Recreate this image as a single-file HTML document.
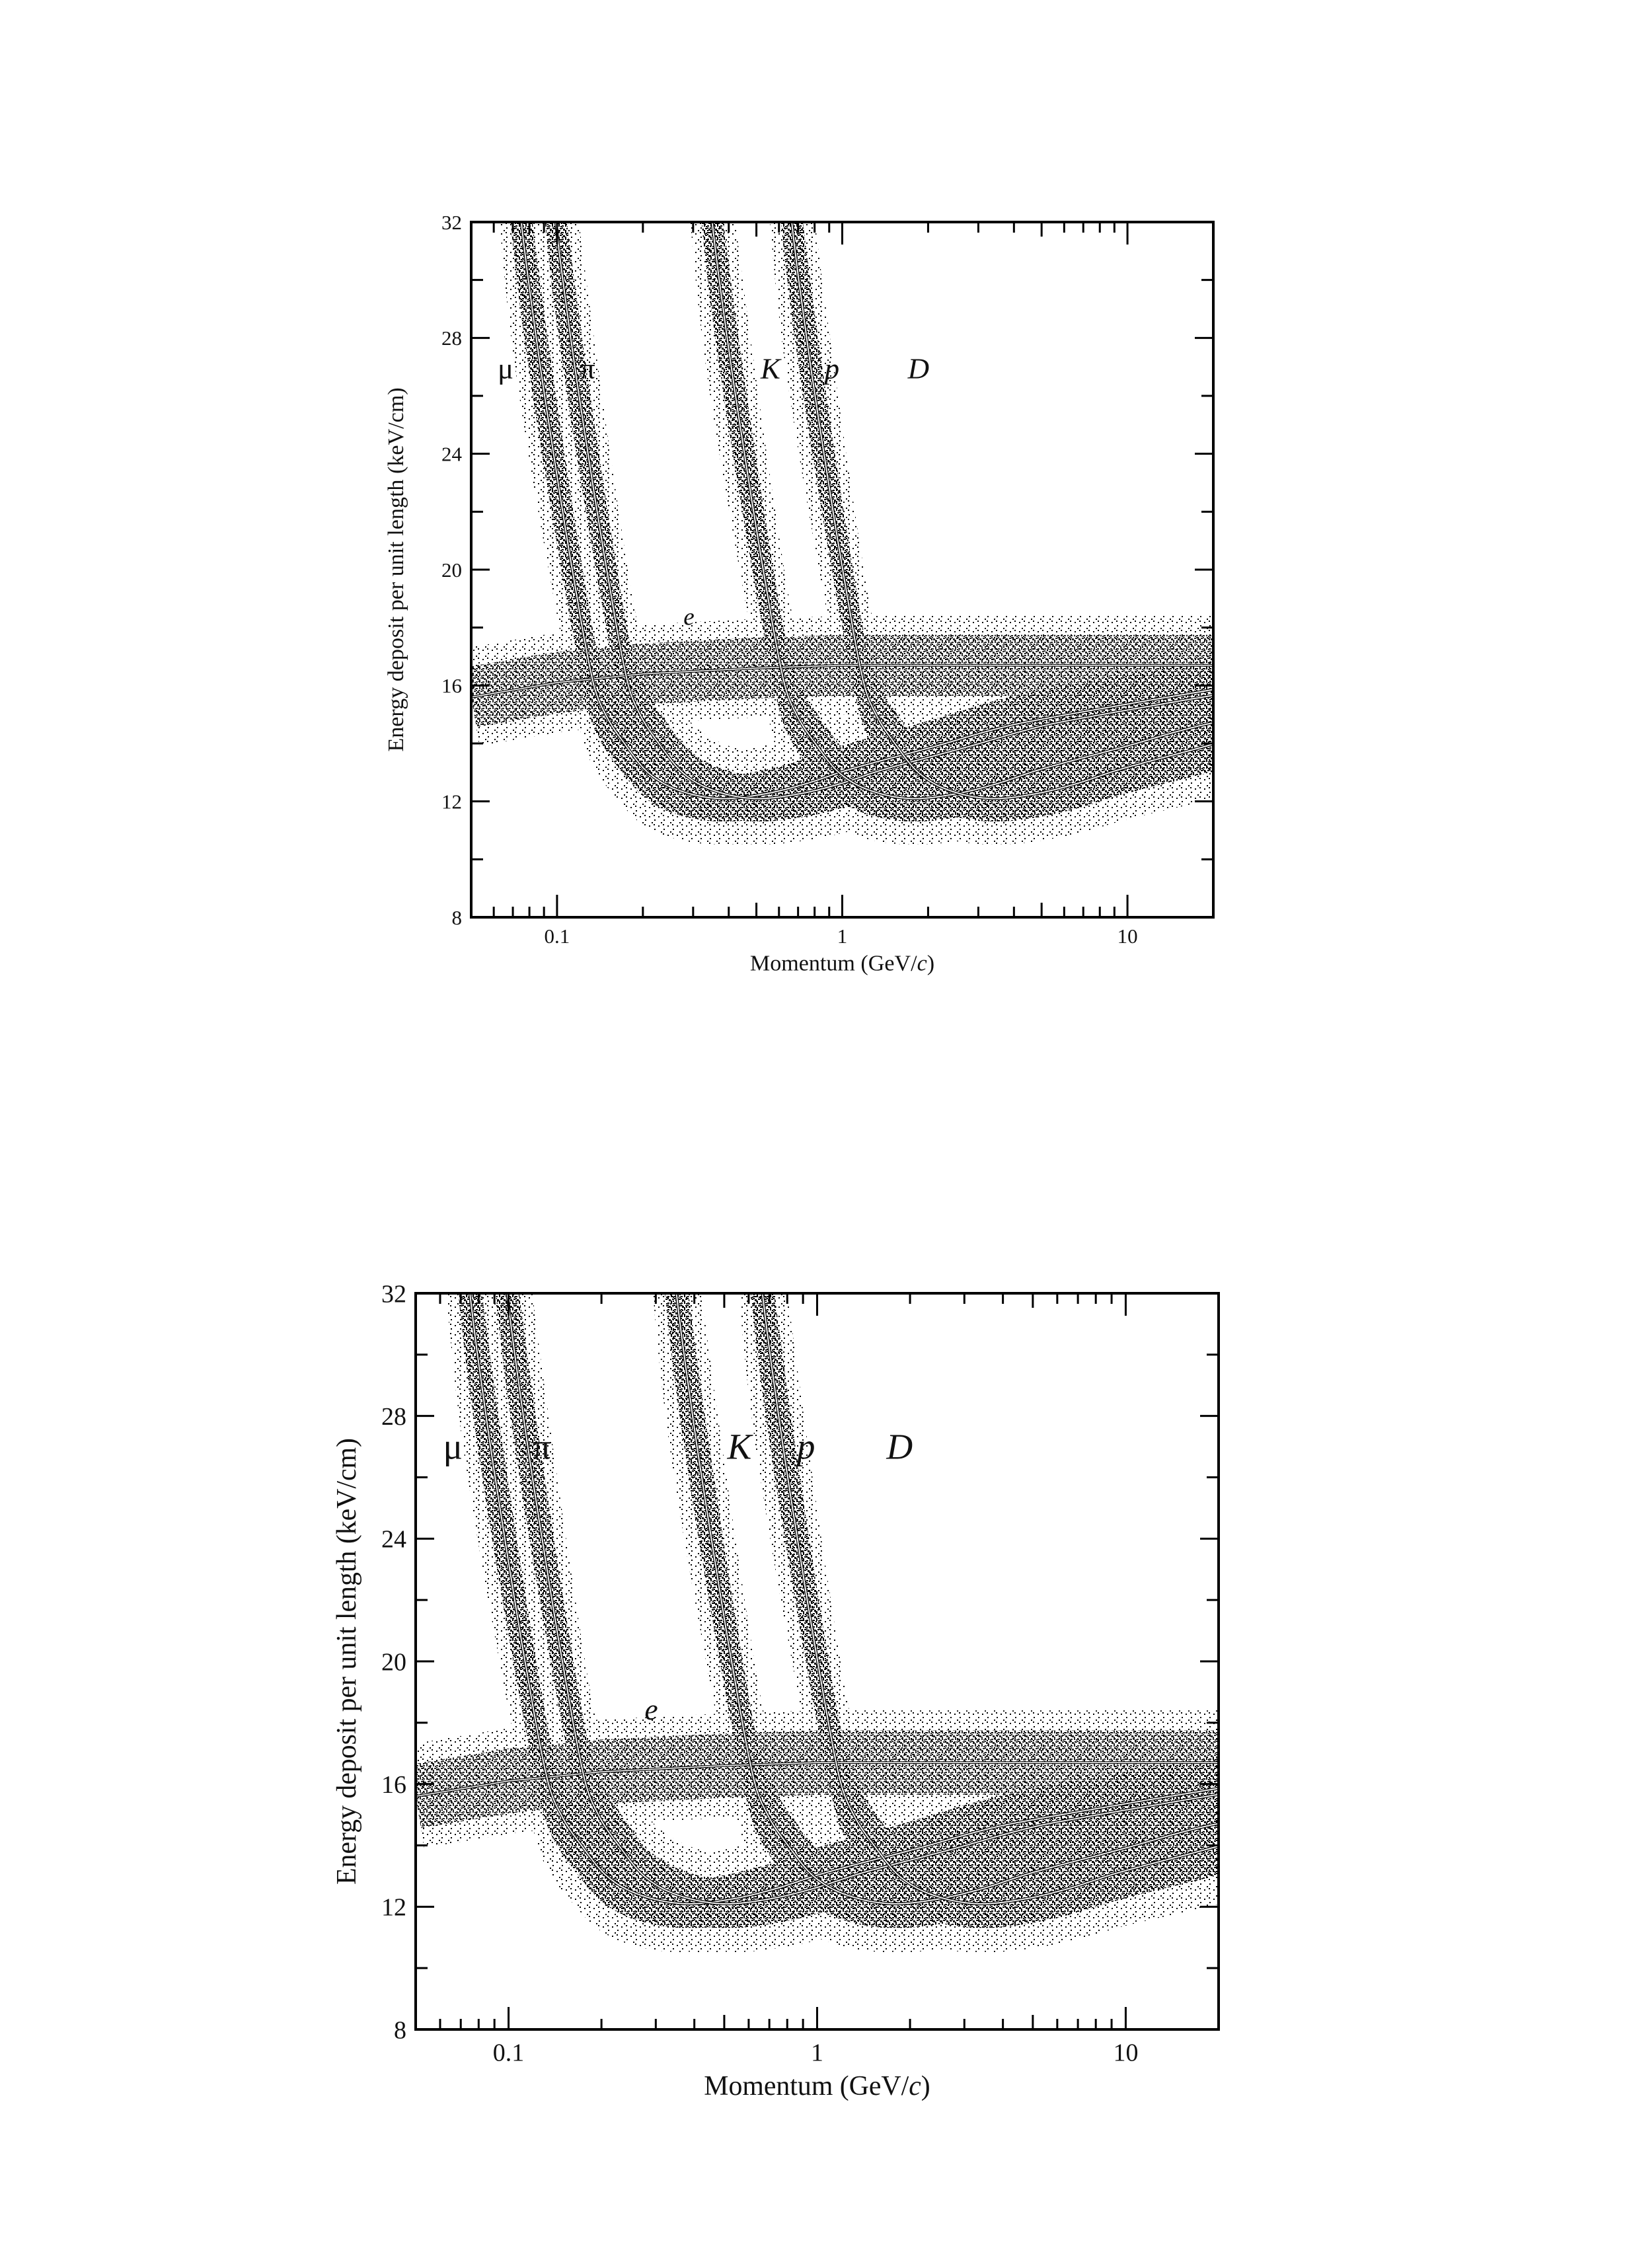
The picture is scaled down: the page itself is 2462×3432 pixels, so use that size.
<!DOCTYPE html>
<html><head><meta charset="utf-8">
<style>
html,body{margin:0;padding:0;background:#fff;}
svg{display:block;}
text{font-family:"Liberation Serif","DejaVu Serif",serif;fill:#111;}
</style></head>
<body>
<svg id="fig" width="2462" height="3432" viewBox="0 0 2462 3432" xmlns="http://www.w3.org/2000/svg">
<defs>
<pattern id="dots" width="10" height="10" patternUnits="userSpaceOnUse">
<rect x="0" y="1" width="3" height="2" fill="#000"/>
<rect x="5" y="0" width="2" height="3" fill="#000"/>
<rect x="7" y="5" width="3" height="2" fill="#000"/>
<rect x="2" y="6" width="3" height="3" fill="#000"/>
<rect x="5" y="8" width="2" height="2" fill="#000"/>
<rect x="0" y="4" width="2" height="2" fill="#000"/>
<rect x="8" y="2" width="2" height="2" fill="#000"/>
</pattern>
<pattern id="dotsSparse" width="14" height="14" patternUnits="userSpaceOnUse">
<rect x="2" y="3" width="2" height="2" fill="#000"/>
<rect x="10" y="8" width="2" height="2" fill="#000"/>
<rect x="6" y="12" width="2" height="2" fill="#000"/>
<rect x="9" y="1" width="2" height="2" fill="#000"/>
</pattern>
</defs>
</svg>
<script>
// Universal dE/dx curve read from the pion/kaon/proton bands, vs beta*gamma = p/m
const betaGamma = [0.50, 0.58, 0.64, 0.70, 0.80, 0.92, 1.07, 1.26, 1.40, 1.63, 1.97, 2.5, 3.5, 5, 7, 10, 20, 30, 40, 100, 200];
const dedx      = [55.0, 44.0, 37.0, 32.5, 28.0, 24.0, 20.0, 16.2, 15.0, 14.0, 13.0, 12.4, 12.1, 12.25, 12.6, 13.1, 13.9, 14.4, 14.7, 15.4, 15.9];
const particles = ["mu", "pi", "K", "p"];
const masses    = [0.1057, 0.1396, 0.4937, 0.938];
// electron band (momentum, dE/dx)
const eMomentum = [0.05, 0.1, 0.2, 0.5, 1, 20];
const eDedx     = [15.6, 16.1, 16.4, 16.6, 16.7, 16.7];
// labels
const labelText = ["\u03bc", "\u03c0", "K", "p", "D", "e"];
const labelP    = [0.066, 0.128, 0.56, 0.92, 1.85, 0.29];
const labelY    = [26.6, 26.6, 26.6, 26.6, 26.6, 18.1];
const labelItalic = [false, false, true, true, true, true];
const yTicks = [8, 12, 16, 20, 24, 28, 32];
const yMinor = [10, 14, 18, 22, 26, 30];
const xTickLabels = ["0.1", "1", "10"];
const xTickVals = [0.1, 1, 10];

const NS = "http://www.w3.org/2000/svg";
const svg = document.getElementById('fig');
function el(tag, attrs, parent){ const e=document.createElementNS(NS,tag); for(const k in attrs) e.setAttribute(k,attrs[k]); (parent||svg).appendChild(e); return e; }

function interp(bg){
  const n=betaGamma.length;
  const lx=betaGamma.map(Math.log), u=Math.log(bg);
  if(u<=lx[0]) return dedx[0];
  if(u>=lx[n-1]) return dedx[n-1];
  let i=1; while(u>lx[i]) i++;
  const i0=i-1, i1=i;
  const x0=lx[i0], x1=lx[i1], h=x1-x0, t=(u-x0)/h;
  const slope=(a,b)=> (dedx[b]-dedx[a])/(lx[b]-lx[a]);
  const m0 = i0>0 ? (slope(i0-1,i1)) : slope(i0,i1);
  const m1 = i1<n-1 ? (slope(i0,i1+1)) : slope(i0,i1);
  const t2=t*t, t3=t2*t;
  return (2*t3-3*t2+1)*dedx[i0] + (t3-2*t2+t)*h*m0 + (-2*t3+3*t2)*dedx[i1] + (t3-t2)*h*m1;
}

function drawChart(cfg){
  const g = el('g', {});
  
  
  const {L,R,T,B,fs} = cfg;
  const xmin=Math.log10(0.05), xmax=Math.log10(20);
  const X = p => L + (Math.log10(p)-xmin)/(xmax-xmin)*(R-L);
  const Y = v => B - (v-8)/(32-8)*(B-T);
  const unit = (B-T)/24;
  const clip = el('clipPath', {id:'clip'+cfg.name}, g);
  el('rect',{x:L,y:T,width:R-L,height:B-T},clip);
  const plot = el('g',{'clip-path':'url(#clip'+cfg.name+')'},g);
  
  

  const N=500, pa=0.04, pb=25, VMAX=36;
  const pAt = k => pa*Math.pow(pb/pa,k/N);
  const band = (i,h,s) => {
    const up=[], lo=[];
    for(let k=0;k<=N;k++){
      const p=pAt(k);
      const a=interp(p/(1+h)/masses[i]), b=interp(p*(1+h)/masses[i]);
      const vu=Math.min(Math.max(a,b)*(1+s),VMAX), vl=Math.min(Math.min(a,b)*(1-s),VMAX);
      up.push(X(p).toFixed(1)+' '+Y(vu).toFixed(1));
      lo.push(X(p).toFixed(1)+' '+Y(vl).toFixed(1));
    }
    lo.reverse();
    return 'M'+up.join('L')+'L'+lo.join('L')+'Z';
  };
  const curvePaths = particles.map((nm,i)=>{
    const a=[];
    for(let k=0;k<=N;k++){ const p=pAt(k); a.push(X(p).toFixed(1)+' '+Y(Math.min(interp(p/masses[i]),VMAX)).toFixed(1)); }
    return 'M'+a.join('L');
  });
  let ed='';
  eMomentum.forEach((p,i)=>{ ed += (i?'L':'M')+X(p).toFixed(1)+' '+Y(eDedx[i]).toFixed(1); });

  const eb = el('path',{d:ed,fill:'none',stroke:'url(#dotsSparse)','stroke-width':unit*3.4},plot);
  
  
  const eb2 = el('path',{d:ed,fill:'none',stroke:'url(#dots)','stroke-width':unit*2.1,opacity:0.85},plot);
  
  
  particles.forEach((nm,i)=>{
    const b2 = el('path',{d:band(i,0.08,0.13),fill:'url(#dotsSparse)'},plot);
    
    
  });
  particles.forEach((nm,i)=>{
    const b = el('path',{d:band(i,0.035,0.065),fill:'url(#dots)'},plot);
    
    
  });
  const edraw = el('path',{d:ed,fill:'none',stroke:'#111','stroke-width':4},plot);
  
  
  el('path',{d:ed,fill:'none',stroke:'#fff','stroke-width':1.5},plot);
  curvePaths.forEach((d,i)=>{
    const c1 = el('path',{d:d,fill:'none',stroke:'#111','stroke-width':4.5},plot);
    
    
    const c2 = el('path',{d:d,fill:'none',stroke:'#fff','stroke-width':1.8},plot);
    
    
  });

  const fr = el('rect',{x:L,y:T,width:R-L,height:B-T,fill:'none',stroke:'#000','stroke-width':4},g);
  
  
  yTicks.forEach(v=>{
    const y=Y(v);
    el('line',{x1:L,y1:y,x2:L+28,y2:y,stroke:'#000','stroke-width':3},g);
    el('line',{x1:R,y1:y,x2:R-28,y2:y,stroke:'#000','stroke-width':3},g);
    const t=el('text',{x:L-14,y:y+fs*0.35,'font-size':fs,'text-anchor':'end'},g);
    t.textContent=v;
    
    
  });
  yMinor.forEach(v=>{
    const y=Y(v);
    el('line',{x1:L,y1:y,x2:L+18,y2:y,stroke:'#000','stroke-width':3},g);
    el('line',{x1:R,y1:y,x2:R-18,y2:y,stroke:'#000','stroke-width':3},g);
  });
  for(let dec=-2; dec<=1; dec++){
    for(let m=1;m<=9;m++){
      const p=m*Math.pow(10,dec);
      if(p<0.05||p>20) continue;
      const x=X(p), len = m===1?34:(m===5?22:16);
      el('line',{x1:x,y1:B,x2:x,y2:B-len,stroke:'#000','stroke-width':3},g);
      el('line',{x1:x,y1:T,x2:x,y2:T+len,stroke:'#000','stroke-width':3},g);
    }
  }
  xTickVals.forEach((p,i)=>{
    const t=el('text',{x:X(p),y:B+fs*1.25,'font-size':fs,'text-anchor':'middle'},g);
    t.textContent=xTickLabels[i];
    
    
  });
  const xt=el('text',{x:(L+R)/2,y:B+fs*2.6,'font-size':fs*1.1,'text-anchor':'middle'},g);
  xt.innerHTML='Momentum (GeV/<tspan font-style="italic">c</tspan>)';
  
  
  const yt=el('text',{x:0,y:0,'font-size':fs*1.1,'text-anchor':'middle',transform:`translate(${cfg.ytx},${(T+B)/2}) rotate(-90)`},g);
  yt.textContent='Energy deposit per unit length (keV/cm)';
  
  
  labelText.forEach((s,i)=>{
    const t=el('text',{x:X(labelP[i]),y:Y(labelY[i]),'font-size':labelY[i]<20?fs*1.2:fs*1.45,'text-anchor':'middle','font-style':labelItalic[i]?'italic':'normal'},g);
    t.textContent=s;
    
    
  });
}

drawChart({name:'top-chart',L:713,R:1836,T:336,B:1388,fs:31,ytx:610});
drawChart({name:'bottom-chart',L:629,R:1844,T:1957,B:3071,fs:38,ytx:538});
</script>
</body></html>
